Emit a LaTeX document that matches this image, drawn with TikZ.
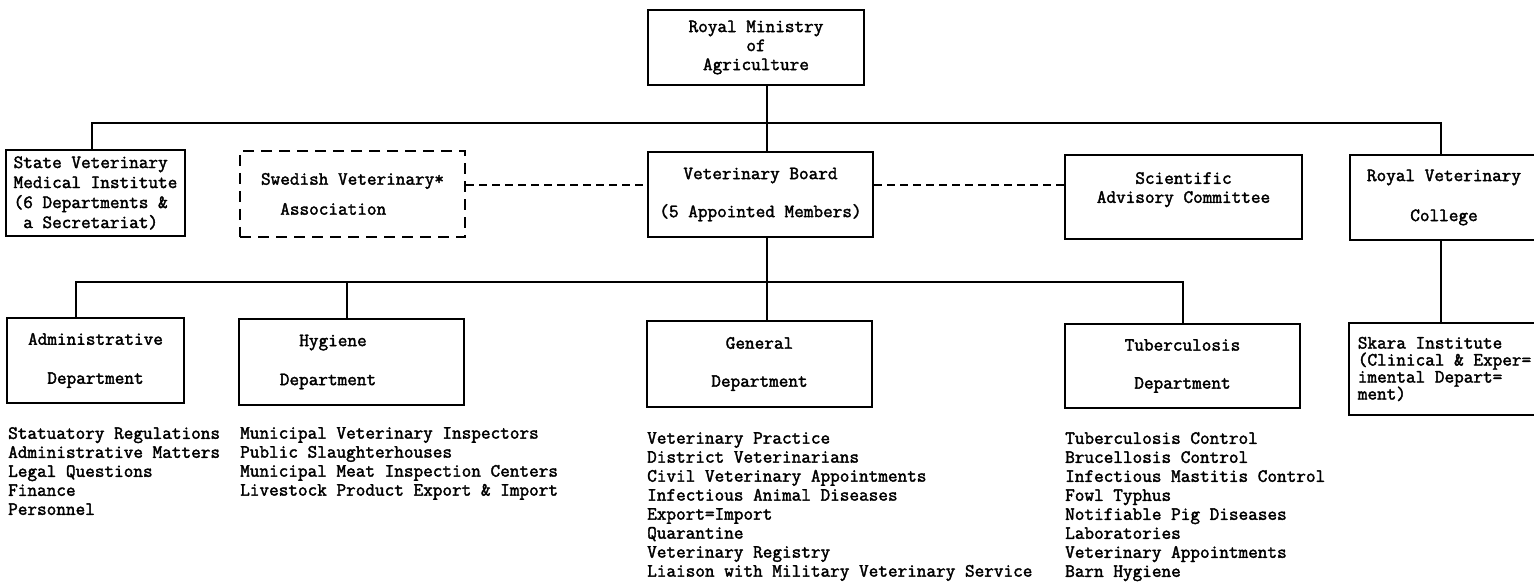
\documentclass[tikz,border=0pt]{standalone}
\usepackage{fontspec}
\newfontfamily\tw{Latin Modern Mono}[FakeBold=2]
\usepackage{tikz}
\tikzset{
  box/.style={draw, line width=2pt, inner sep=0pt, align=center, font=\tw\fontsize{18.7}{19}\selectfont},
  link/.style={line width=2pt},
  dlink/.style={line width=2pt, dash pattern=on 8pt off 5pt},
  duties/.style={anchor=north west, inner sep=0pt, align=left, font=\tw\fontsize{18.7}{19}\selectfont},
}

\begin{document}
\begin{tikzpicture}[x=1pt,y=-1pt]
        % Hoja
        \path[use as bounding box, fill=white] (0,0) rectangle (1534,585);
        % Ministerio
        \node[box, minimum width=216pt, minimum height=75pt] (min) at (756,47.5) {Royal Ministry\\of\\Agriculture};
        % Primera fila
        \node[box, align=left, minimum width=179pt, minimum height=86pt] (svmi) at (95.5,193) {State Veterinary\\[1pt]Medical Institute\\[1pt](6 Departments \&\\[1pt]\phantom{(}a Secretariat)};
        \node[box, dash pattern=on 11pt off 7pt, align=left, minimum width=225pt, minimum height=86pt] (swe) at (352.5,194) {Swedish Veterinary*\\[11pt]\phantom{Sw}Association};
        \node[box, minimum width=225pt, minimum height=85pt] (vb) at (760.5,194.5) {Veterinary Board\\[19pt](5 Appointed Members)};
        \node[box, minimum width=237pt, minimum height=84pt] (sac) at (1183.5,197) {Scientific\\Advisory Committee\\\mbox{}};
        \node[box, minimum width=188pt, minimum height=85pt] (rvc) at (1444,197.5) {Royal Veterinary\\[21pt]College};
        % Departamentos
        \node[box, minimum width=177pt, minimum height=85pt] (adm) at (95.5,360.5) {Administrative\\[20pt]Department};
        \node[box, minimum width=225pt, minimum height=86pt] (hyg) at (351.5,362) {Hygiene\hspace*{37pt}\\[20pt]Department\hspace*{47pt}};
        \node[box, minimum width=225pt, minimum height=86pt] (gen) at (759.5,364) {General\\[19pt]Department};
        \node[box, minimum width=235pt, minimum height=84pt] (tub) at (1182.5,366) {Tuberculosis\\[19pt]Department};
        \node[box, align=left, minimum width=191pt, minimum height=92pt] (skara) at (1444.5,369) {Skara Institute\\[-2pt](Clinical \& Exper=\\[-2pt]imental Depart=\\[-2pt]ment)};
        % Tareas
        \node[duties] (admlist) at (8,427) {Statuatory Regulations\\Administrative Matters\\Legal Questions\\Finance\\Personnel};
        \node[duties] (hyglist) at (240,427) {Municipal Veterinary Inspectors\\Public Slaughterhouses\\Municipal Meat Inspection Centers\\Livestock Product Export \& Import};
        \node[duties] (genlist) at (647,432) {Veterinary Practice\\District Veterinarians\\Civil Veterinary Appointments\\Infectious Animal Diseases\\Export=Import\\Quarantine\\Veterinary Registry\\Liaison with Military Veterinary Service};
        \node[duties] (tublist) at (1065,432) {Tuberculosis Control\\Brucellosis Control\\Infectious Mastitis Control\\Fowl Typhus\\Notifiable Pig Diseases\\Laboratories\\Veterinary Appointments\\Barn Hygiene};
        % Lineas
        \coordinate (tb) at (0,123);
        \coordinate (bb) at (0,282);
        \draw[link] ([xshift=11pt]min.south) -- ([xshift=11pt]min.south |- tb);
        \draw[link] ([xshift=-3.5pt]svmi.north) |- ([xshift=-3pt]rvc.north |- tb) -- ([xshift=-3pt]rvc.north);
        \draw[link] ([xshift=6.5pt]vb.north) -- ([xshift=6.5pt]vb.north |- tb);
        \draw[link] ([xshift=6.5pt]vb.south) -- ([xshift=7.5pt]gen.north);
        \draw[link] ([xshift=-19.5pt]adm.north) |- (tub.north |- bb) -- (tub.north);
        \draw[link] ([xshift=-4.5pt]hyg.north) -- ([xshift=-4.5pt]hyg.north |- bb);
        \draw[link] ([xshift=-3pt]rvc.south) -- ([xshift=-3pt]rvc.south |- skara.north);
        \draw[dlink] ([yshift=9pt]swe.east) -- ([yshift=9pt]swe.east -| vb.west);
        \draw[dlink] ([yshift=9pt]vb.east) -- ([yshift=9pt]vb.east -| sac.west);
    \end{tikzpicture}
\end{document}
